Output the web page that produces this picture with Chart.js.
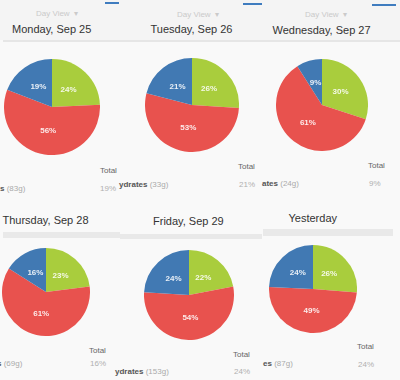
<!DOCTYPE html>
<html><head><meta charset="utf-8">
<script src="https://cdn.jsdelivr.net/npm/chart.js@4/dist/chart.umd.min.js"></script>
<style>
html,body{margin:0;padding:0}
body{width:400px;height:380px;background:#f9f9f9;position:relative;overflow:hidden;font-family:"Liberation Sans",Arial,Helvetica,sans-serif}
.a{position:absolute;white-space:nowrap;line-height:1}
.box{position:absolute}
canvas{position:absolute}
</style></head><body>
<script>
// ---- data ----
const days = ["Monday, Sep 25", "Tuesday, Sep 26", "Wednesday, Sep 27", "Thursday, Sep 28", "Friday, Sep 29", "Yesterday"];
const sliceNames = ["Protein", "Fat", "Carbohydrates"];
const protein = [24, 26, 30, 23, 22, 26];
const fat = [56, 53, 61, 61, 54, 49];
const carbs = [19, 21, 9, 16, 24, 24];
const carbGrams = [83, 33, 24, 69, 153, 87];
const carbNameFragments = ["s", "ydrates", "ates", "s", "ydrates", "es"];
const totalLabel = "Total";
const dayViewLabel = "Day View";

// ---- layout (positions/styles only) ----
const colors = ["#a9cd3d", "#e8524e", "#4179b3"];
const panels = [
  {cx:52, cy:107, r:48, tx:51.5, ty:29, dv:[57,14], tot:[100,171], pct:[100,189], leg:[0,189]},
  {cx:192, cy:105, r:47, tx:191.5, ty:29, dv:[198,15], tot:[238,167], pct:[239,185], leg:[119,185]},
  {cx:322, cy:105, r:46, tx:321.5, ty:30, dv:[326,15], tot:[368,166], pct:[369,184], leg:[262,184]},
  {cx:46, cy:292, r:44, tx:45.5, ty:220, dv:null, tot:[89,351], pct:[90,364], leg:[-3,364]},
  {cx:189, cy:295, r:45, tx:188.5, ty:221, dv:null, tot:[233,355], pct:[234,372], leg:[115,372]},
  {cx:313, cy:289, r:44, tx:313, ty:218, dv:null, tot:[357,347], pct:[358,365], leg:[263,364]}
];

function box(x,y,w,h,c){const d=document.createElement('div');d.className='box';
  Object.assign(d.style,{left:x+'px',top:y+'px',width:w+'px',height:h+'px',background:c});document.body.appendChild(d);}
function text(str,x,y,size,color,opts={}){
  const d=document.createElement('div');d.className='a';d.innerHTML=str;
  d.style.fontSize=size+'px';d.style.color=color;d.style.top=(y-size/2)+'px';
  if(opts.weight)d.style.fontWeight=opts.weight;
  document.body.appendChild(d);
  if(opts.center){d.style.left=(x-d.offsetWidth/2)+'px';}else d.style.left=x+'px';
  return d;
}

// background pieces
box(0,0,400,40,'#f4f4f4');
box(3,40,397,2,'#e6e6e6');
box(105,2,14,2,'#3f7cbf');
box(243,3,19,2,'#3f7cbf');
box(372,4,24,2,'#3f7cbf');
box(3,232,117,6,'#e9e9e9');
box(120,234,142,5,'#e9e9e9');
box(263,229,130,7,'#e9e9e9');

const pctPlugin = {
  id:'pctLabels',
  afterDatasetsDraw(chart){
    const ctx=chart.ctx;const ds=chart.data.datasets[0];
    chart.getDatasetMeta(0).data.forEach((el,i)=>{
      const p=el.tooltipPosition();
      ctx.save();
      ctx.font='bold 8px "Liberation Sans", Arial, sans-serif';
      ctx.fillStyle='rgba(255,255,255,0.88)';
      ctx.textAlign='center';ctx.textBaseline='middle';
      ctx.fillText(ds.data[i]+'%',p.x,p.y);
      ctx.restore();
    });
  }
};

panels.forEach((p,i)=>{
  if(p.dv) text(dayViewLabel+' &nbsp;&#9662;',p.dv[0],p.dv[1],8,'#cacaca',{center:true});
  text(days[i],p.tx,p.ty,11,'#333',{center:true});
  text(totalLabel,p.tot[0],p.tot[1],8,'#666');
  text(carbs[i]+'%',p.pct[0],p.pct[1],8,'#b0b0b0');
  text('<span style="color:#555;font-weight:bold">'+carbNameFragments[i]+'</span> <span style="color:#aaa">('+carbGrams[i]+'g)</span>',p.leg[0],p.leg[1],8,'#555');

  const c=document.createElement('canvas');
  const s=p.r*2;
  c.width=s;c.height=s;c.style.left=(p.cx-p.r)+'px';c.style.top=(p.cy-p.r)+'px';
  c.style.width=s+'px';c.style.height=s+'px';
  document.body.appendChild(c);
  new Chart(c,{
    type:'pie',
    data:{labels:sliceNames,datasets:[{data:[protein[i],fat[i],carbs[i]],backgroundColor:colors,borderWidth:0}]},
    options:{responsive:false,animation:false,devicePixelRatio:1,
      layout:{padding:0},
      plugins:{legend:{display:false},tooltip:{enabled:false}}},
    plugins:[pctPlugin]
  });
});
</script>
</body></html>
